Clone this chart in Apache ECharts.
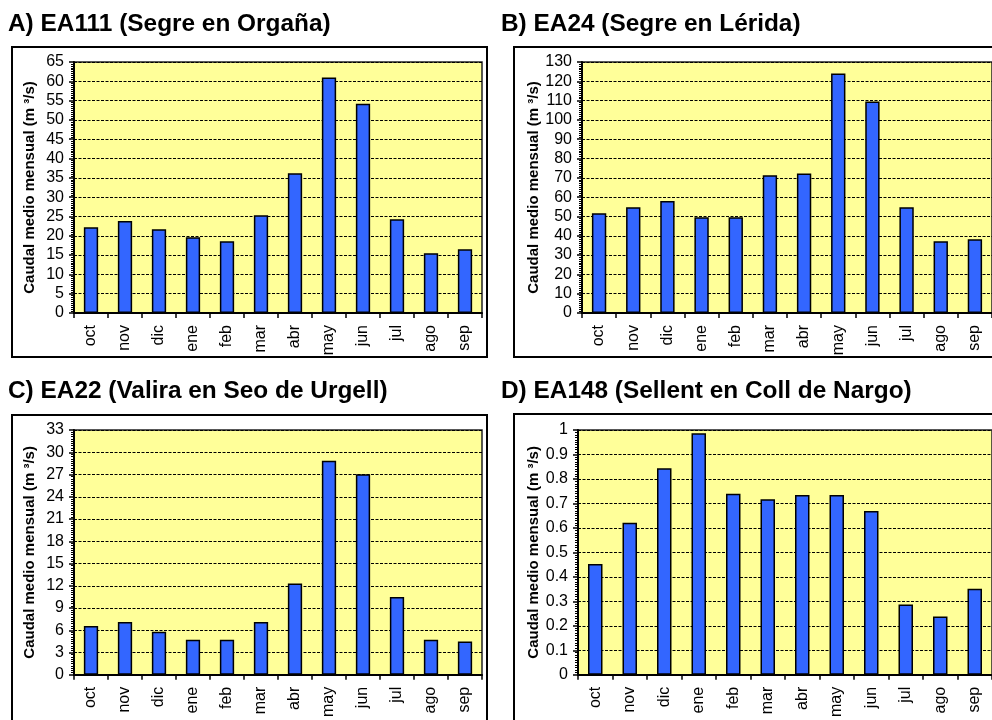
<!DOCTYPE html>
<html>
<head>
<meta charset="utf-8">
<script src="https://cdn.jsdelivr.net/npm/echarts@6/dist/echarts.min.js"></script>
<style>
html,body{margin:0;padding:0;background:#fff;overflow:hidden;}
#c{width:992px;height:720px;}
</style>
</head>
<body>
<div id="c"></div>
<script>
// ---- data ----
const months = ['oct','nov','dic','ene','feb','mar','abr','may','jun','jul','ago','sep'];
const caudalEA111 = [22.2, 23.8, 21.7, 19.6, 18.6, 25.3, 36.2, 61.0, 54.2, 24.3, 15.5, 16.5];
const caudalEA24  = [51.7, 54.8, 58.0, 49.6, 49.6, 71.3, 72.3, 124.0, 109.5, 54.8, 37.2, 38.2];
const caudalEA22  = [6.56, 7.12, 5.81, 4.72, 4.72, 7.12, 12.3, 28.85, 27.05, 10.5, 4.72, 4.5];
const caudalEA148 = [0.453, 0.621, 0.844, 0.987, 0.740, 0.717, 0.734, 0.734, 0.669, 0.287, 0.238, 0.351];
const panelTitles = ['A) EA111 (Segre en Orgaña)', 'B) EA24 (Segre en Lérida)', 'C) EA22 (Valira en Seo de Urgell)', 'D) EA148 (Sellent en Coll de Nargo)'];
const yMax = [65, 130, 33, 1];
const yInterval = [5, 10, 3, 0.1];
const yName = 'Caudal medio mensual (m \u00B3/s)';

// ---- layout / style ----
const FONT = "'Liberation Sans', Arial, sans-serif";
const seriesData = [caudalEA111, caudalEA24, caudalEA22, caudalEA148];
const grids = [
  {left: 74, top: 62, width: 408, height: 251},
  {left: 582, top: 62, width: 412, height: 251},
  {left: 74, top: 430, width: 408, height: 252},
  {left: 578, top: 430, width: 416, height: 252}
];
const titlePos = [[8, 12], [501, 12], [8, 379], [501, 379]];
const boxes = [
  {x: 12, y: 47, width: 475, height: 310},
  {x: 514, y: 47, width: 500, height: 310},
  {x: 12, y: 415, width: 475, height: 400},
  {x: 514, y: 414, width: 500, height: 400}
];

const chart = echarts.init(document.getElementById('c'), null, {renderer: 'canvas'});

const option = {
  animation: false,
  backgroundColor: '#fff',
  textStyle: {fontFamily: FONT},
  graphic: boxes.map(b => ({
    type: 'rect', silent: true, z: -100,
    shape: {x: b.x, y: b.y, width: b.width, height: b.height},
    style: {fill: '#fff', stroke: '#000', lineWidth: 2}
  })),
  title: panelTitles.map((t, i) => ({
    text: t, left: titlePos[i][0], top: titlePos[i][1], padding: 0,
    textStyle: {fontFamily: FONT, fontSize: 24.4, fontWeight: 'bold', color: '#000'}
  })),
  grid: grids.map(g => Object.assign({
    show: true, backgroundColor: '#FFFF99', borderColor: '#222', borderWidth: 1.5, containLabel: false
  }, g)),
  xAxis: grids.map((g, i) => ({
    type: 'category', gridIndex: i, data: months,
    axisLine: {show: true, lineStyle: {color: '#000', width: 2}},
    axisTick: {show: true, length: 5, lineStyle: {color: '#000', width: 1.5}},
    axisLabel: {rotate: 90, margin: 12, fontSize: 16, color: '#000', fontFamily: FONT, interval: 0},
    splitLine: {show: false}
  })),
  yAxis: grids.map((g, i) => ({
    type: 'value', gridIndex: i, min: 0, max: yMax[i], interval: yInterval[i],
    name: yName, nameLocation: 'middle', nameGap: 37,
    nameTextStyle: {fontSize: 15, fontWeight: 'bold', color: '#000', fontFamily: FONT},
    axisLine: {show: true, lineStyle: {color: '#000', width: 2}},
    axisTick: {show: true, length: 5, lineStyle: {color: '#000', width: 1.5}},
    minorTick: {show: true, splitNumber: 10, length: 3, lineStyle: {color: '#000', width: 1}},
    axisLabel: {margin: 10, fontSize: 16, color: '#000', fontFamily: FONT},
    splitLine: {show: true, lineStyle: {color: '#000', width: 1, type: [3, 1.5]}}
  })),
  series: seriesData.map((d, i) => ({
    type: 'bar', xAxisIndex: i, yAxisIndex: i, data: d,
    barWidth: '42%',
    itemStyle: {color: '#3366FF', borderColor: '#000', borderWidth: 1.5},
    emphasis: {disabled: true}
  }))
};
chart.setOption(option);
</script>
</body>
</html>
